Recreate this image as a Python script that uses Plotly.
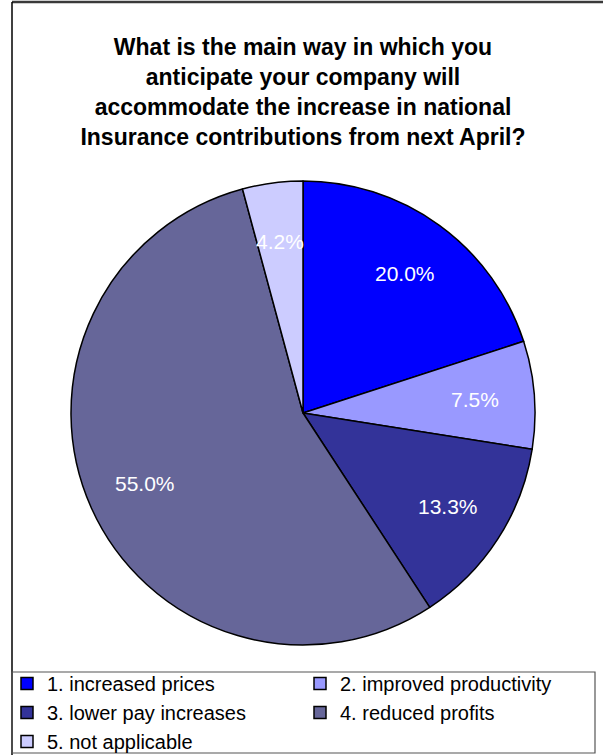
import numpy as np
import plotly.graph_objects as go

# ---- data ----
categories = ["1. increased prices", "2. improved productivity", "3. lower pay increases",
              "4. reduced profits", "5. not applicable"]
values = [20.0, 7.5, 13.3, 55.0, 4.2]
colors = ["#0000FF", "#9999FF", "#333399", "#666699", "#CCCCFF"]
title_lines = ["What is the main way in which you",
               "anticipate your company will",
               "accommodate the increase in national",
               "Insurance contributions from next April?"]

# ---- layout constants (pixels) ----
W, H = 603, 755
CX, CY, R = 303, 413, 232
LABEL_R = 0.745

def px_x(x):
    return x / W

def px_y(y):
    return 1 - y / H

fig = go.Figure(go.Pie(
    labels=categories, values=values, sort=False, direction="clockwise", rotation=0,
    marker=dict(colors=colors, line=dict(color="black", width=1.5)),
    textinfo="none", hoverinfo="label+percent",
    domain=dict(x=[px_x(CX - R), px_x(CX + R)], y=[px_y(CY + R), px_y(CY - R)]),
))

# data labels placed from cumulative angles of the data
vals = np.array(values, dtype=float)
pct = vals / vals.sum() * 100
cum = np.cumsum(vals) / vals.sum() * 360
mid = cum - vals / vals.sum() * 360 / 2
annotations = []
for p, a in zip(pct, mid):
    th = np.deg2rad(a)
    lx = CX + LABEL_R * R * np.sin(th)
    ly = CY - LABEL_R * R * np.cos(th)
    annotations.append(dict(x=px_x(lx), y=px_y(ly), xref="paper", yref="paper",
                            text=f"{p:.1f}%", showarrow=False,
                            font=dict(family="Arial", size=21, color="white"),
                            xanchor="center", yanchor="middle"))

shapes = [
    dict(type="line", xref="paper", yref="paper", x0=px_x(12), x1=1, y0=px_y(2), y1=px_y(2),
         line=dict(color="#3a3a3a", width=2.5)),
    dict(type="line", xref="paper", yref="paper", x0=px_x(12), x1=px_x(12), y0=0, y1=px_y(2),
         line=dict(color="black", width=1.5)),
    dict(type="rect", xref="paper", yref="paper", x0=px_x(12), x1=px_x(595), y0=px_y(753), y1=px_y(672),
         line=dict(color="#555555", width=1.2)),
]

fig.update_layout(
    width=W, height=H,
    margin=dict(l=0, r=0, t=0, b=0, autoexpand=False),
    paper_bgcolor="white", plot_bgcolor="white",
    title=dict(text="<br>".join(f"<b>{t}</b>" for t in title_lines),
               x=px_x(CX), xanchor="center", xref="container",
               y=px_y(55), yanchor="top", yref="container", automargin=False,
               font=dict(family="Arial", size=23, color="black")),
    legend=dict(orientation="h", x=px_x(7), xanchor="left", xref="container",
                y=px_y(664), yanchor="top", yref="container",
                entrywidth=248, entrywidthmode="pixels", traceorder="normal",
                font=dict(family="Arial", size=20, color="black"),
                bgcolor="rgba(0,0,0,0)"),
    annotations=annotations, shapes=shapes,
)

fig.write_html("out.html", config={"displayModeBar": False},
               post_script="document.body.style.margin='0';document.body.style.overflow='hidden';")
